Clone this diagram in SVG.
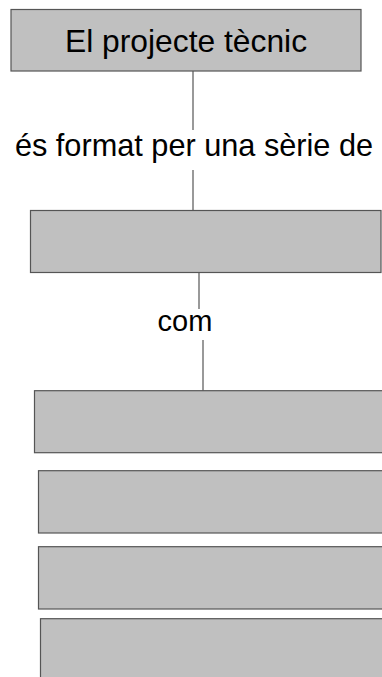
<svg xmlns="http://www.w3.org/2000/svg" width="382" height="677" viewBox="0 0 382 677">
<style>
.box{fill:#c0c0c0;stroke:#555555;stroke-width:1.2}
.t{font-family:"Liberation Sans",Arial,sans-serif;fill:#000;text-anchor:middle}
.c{stroke:#555555;stroke-width:1.2;fill:none}
</style>
<rect x="0" y="0" width="382" height="677" fill="#ffffff"/>
<g id="connectors">
<line class="c" x1="193" y1="71" x2="193" y2="130"/>
<line class="c" x1="193" y1="170" x2="193" y2="211"/>
<text class="t" x="194" y="156" font-size="30.7">és format per una sèrie de</text>
<line class="c" x1="199" y1="272.5" x2="199" y2="309"/>
<line class="c" x1="203" y1="340" x2="203" y2="391"/>
<text class="t" x="185" y="331" font-size="29">com</text>
</g>
<g id="node1">
<rect class="box" x="11" y="9.5" width="350" height="61.5"/>
<text class="t" x="186" y="51.5" font-size="31.8">El projecte tècnic</text>
</g>
<g id="node2">
<rect class="box" x="30.5" y="210.5" width="350.5" height="62"/>
</g>
<g id="node3">
<rect class="box" x="34.5" y="390.7" width="360" height="62"/>
</g>
<g id="node4">
<rect class="box" x="38.5" y="470.7" width="360" height="62.3"/>
</g>
<g id="node5">
<rect class="box" x="38.5" y="546.7" width="360" height="62.3"/>
</g>
<g id="node6">
<rect class="box" x="40.5" y="618.7" width="360" height="80"/>
</g>
</svg>
